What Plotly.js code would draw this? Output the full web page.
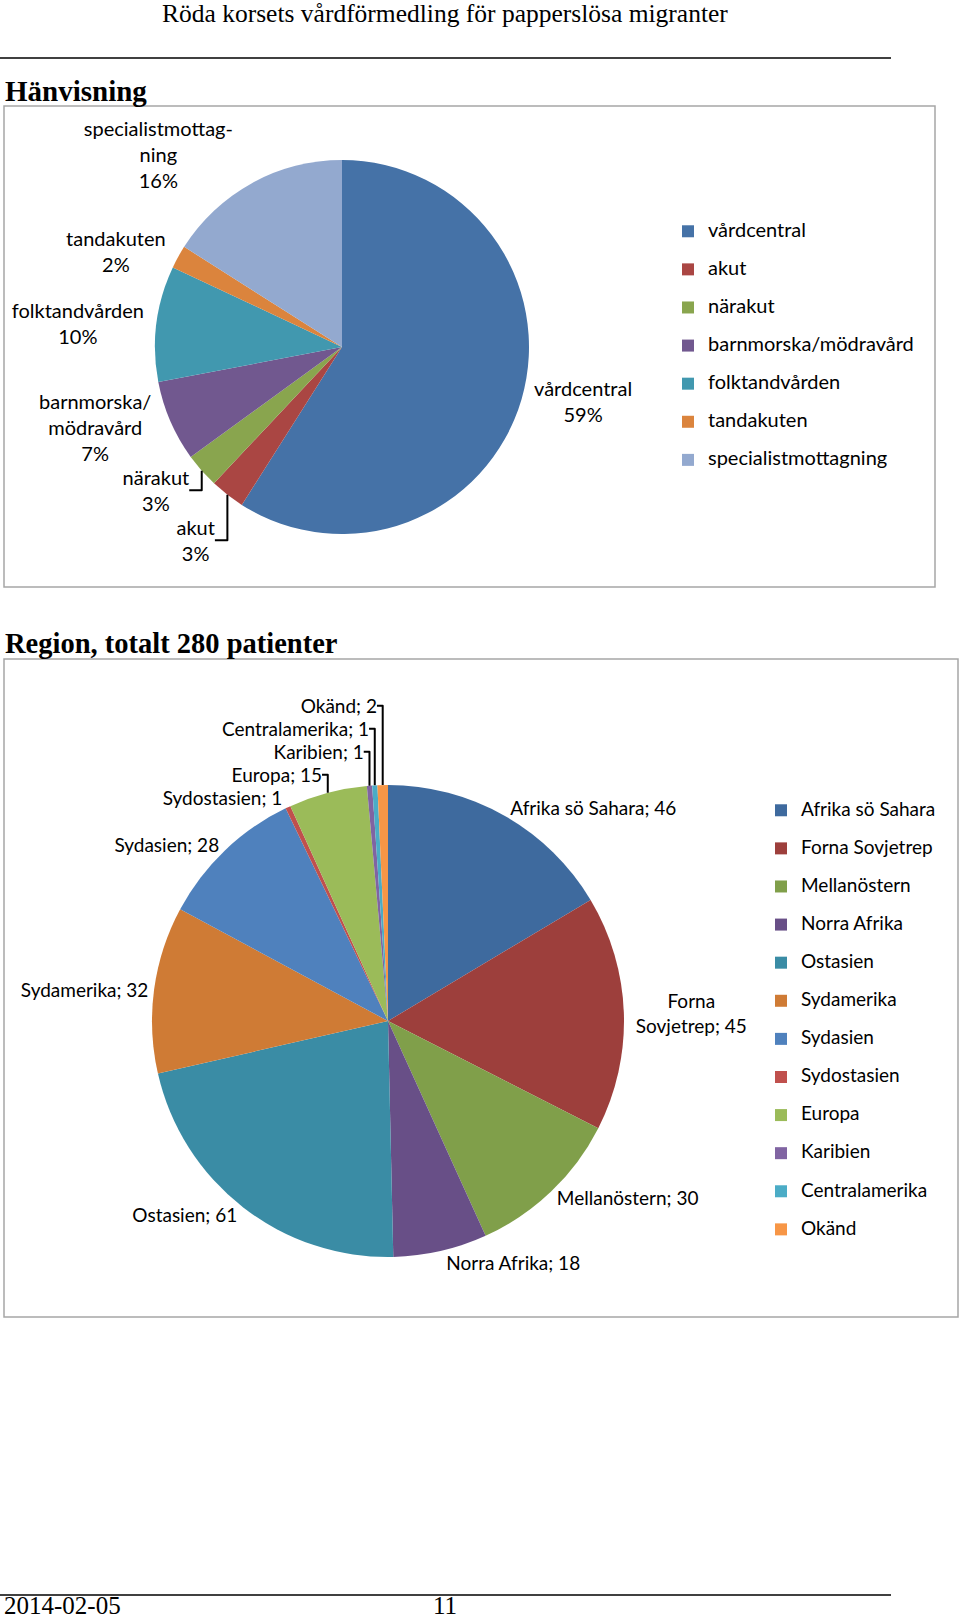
<!DOCTYPE html>
<html>
<head>
<meta charset="utf-8">
<script src="https://cdn.plot.ly/plotly-3.0.1.min.js"></script>
<style>
  html, body { margin: 0; padding: 0; background: #fff; }
  #page { width: 960px; height: 1620px; }
</style>
</head>
<body>
<div id="page"></div>
<script>
// Hänvisning (procent)
const hanvisningNamn = ['vårdcentral', 'akut', 'närakut', 'barnmorska/mödravård', 'folktandvården', 'tandakuten', 'specialistmottagning'];
const hanvisningEtikett = ['vårdcentral', 'akut', 'närakut', 'barnmorska/<br>mödravård', 'folktandvården', 'tandakuten', 'specialistmottag-<br>ning'];
const hanvisningProcent = [59, 3, 3, 7, 10, 2, 16];
const hanvisningFarger = ['#4572A7', '#AA4643', '#89A54E', '#71588F', '#4198AF', '#DB843D', '#93A9CF'];

// Region, antal patienter
const regionNamn = ['Afrika sö Sahara', 'Forna Sovjetrep', 'Mellanöstern', 'Norra Afrika', 'Ostasien', 'Sydamerika', 'Sydasien', 'Sydostasien', 'Europa', 'Karibien', 'Centralamerika', 'Okänd'];
const regionEtikett = ['Afrika sö Sahara', 'Forna<br>Sovjetrep', 'Mellanöstern', 'Norra Afrika', 'Ostasien', 'Sydamerika', 'Sydasien', 'Sydostasien', 'Europa', 'Karibien', 'Centralamerika', 'Okänd'];
const regionAntal = [46, 45, 30, 18, 61, 32, 28, 1, 15, 1, 1, 2];
const regionFarger = ['#3E6A9E', '#9D3F3C', '#809F4A', '#684F87', '#3A8CA5', '#CF7B35', '#4F81BD', '#C0504D', '#9BBB59', '#8064A2', '#4BACC6', '#F79646'];

const W = 960, H = 1620;
const px = x => x / W;
const py = y => 1 - y / H;
const FONT = 'Lato, "Open Sans", sans-serif';
const SERIF = '"Liberation Serif", "Times New Roman", serif';

// legendtext: större synlig text, men radavståndet styrs av legend.font.size
const legendText = (names, size) => names.map(n => '<span style="font-size:' + size + 'px">' + n + '</span><br> ');

const data = [
  {
    type: 'pie',
    labels: legendText(hanvisningNamn, 20),
    values: hanvisningProcent,
    text: hanvisningEtikett,
    texttemplate: '%{text}<br>%{percent}',
    textposition: 'outside',
    outsidetextfont: { family: FONT, size: 20, color: '#000' },
    marker: { colors: hanvisningFarger, line: { width: 0 } },
    sort: false,
    direction: 'clockwise',
    rotation: 0,
    domain: { x: [px(342 - 187), px(342 + 187)], y: [py(347 + 187), py(347 - 187)] },
    legend: 'legend',
    hoverinfo: 'skip'
  },
  {
    type: 'pie',
    labels: legendText(regionNamn, 19),
    values: regionAntal,
    text: regionEtikett,
    texttemplate: '%{text}; %{value}',
    textposition: 'outside',
    outsidetextfont: { family: FONT, size: 19, color: '#000' },
    marker: { colors: regionFarger, line: { width: 0 } },
    sort: false,
    direction: 'clockwise',
    rotation: 0,
    domain: { x: [px(388 - 236), px(388 + 236)], y: [py(1021 + 236), py(1021 - 236)] },
    legend: 'legend2',
    hoverinfo: 'skip'
  }
];

const legendBase = {
  font: { family: FONT, size: 13.5, color: '#000' },
  bgcolor: 'rgba(0,0,0,0)',
  valign: 'top',
  xanchor: 'left',
  yanchor: 'top'
};

const layout = {
  width: W,
  height: H,
  margin: { l: 0, r: 0, t: 0, b: 0 },
  paper_bgcolor: '#fff',
  showlegend: true,
  legend: Object.assign({}, legendBase, { x: px(668), y: py(216) }),
  legend2: Object.assign({}, legendBase, { x: px(761), y: py(795) }),
  shapes: [
    { type: 'line', xref: 'paper', yref: 'paper', x0: 0, x1: px(891), y0: py(58), y1: py(58), line: { color: '#000', width: 1.5 } },
    { type: 'line', xref: 'paper', yref: 'paper', x0: 0, x1: px(891), y0: py(1595), y1: py(1595), line: { color: '#000', width: 1.5 } },
    { type: 'rect', xref: 'paper', yref: 'paper', x0: px(4), x1: px(935), y0: py(106), y1: py(587), line: { color: '#A6A6A6', width: 1.5 } },
    { type: 'rect', xref: 'paper', yref: 'paper', x0: px(4), x1: px(958), y0: py(659), y1: py(1317), line: { color: '#A6A6A6', width: 1.5 } }
  ],
  annotations: [
    { text: 'Röda korsets vårdförmedling för papperslösa migranter', xref: 'paper', yref: 'paper', x: px(445), y: py(14), xanchor: 'center', yanchor: 'middle', showarrow: false, font: { family: SERIF, size: 25.5, color: '#000' } },
    { text: '<b>Hänvisning</b>', xref: 'paper', yref: 'paper', x: px(3), y: py(91), xanchor: 'left', yanchor: 'middle', showarrow: false, font: { family: SERIF, size: 29, color: '#000' } },
    { text: '<b>Region, totalt 280 patienter</b>', xref: 'paper', yref: 'paper', x: px(3), y: py(643), xanchor: 'left', yanchor: 'middle', showarrow: false, font: { family: SERIF, size: 28.5, color: '#000' } },
    { text: '2014-02-05', xref: 'paper', yref: 'paper', x: px(3), y: 0, xanchor: 'left', yanchor: 'bottom', borderpad: 0, showarrow: false, font: { family: SERIF, size: 25, color: '#000' } },
    { text: '11', xref: 'paper', yref: 'paper', x: px(445), y: 0, xanchor: 'center', yanchor: 'bottom', borderpad: 0, showarrow: false, font: { family: SERIF, size: 25, color: '#000' } }
  ]
};

Plotly.newPlot('page', data, layout, { staticPlot: true });
</script>
</body>
</html>
